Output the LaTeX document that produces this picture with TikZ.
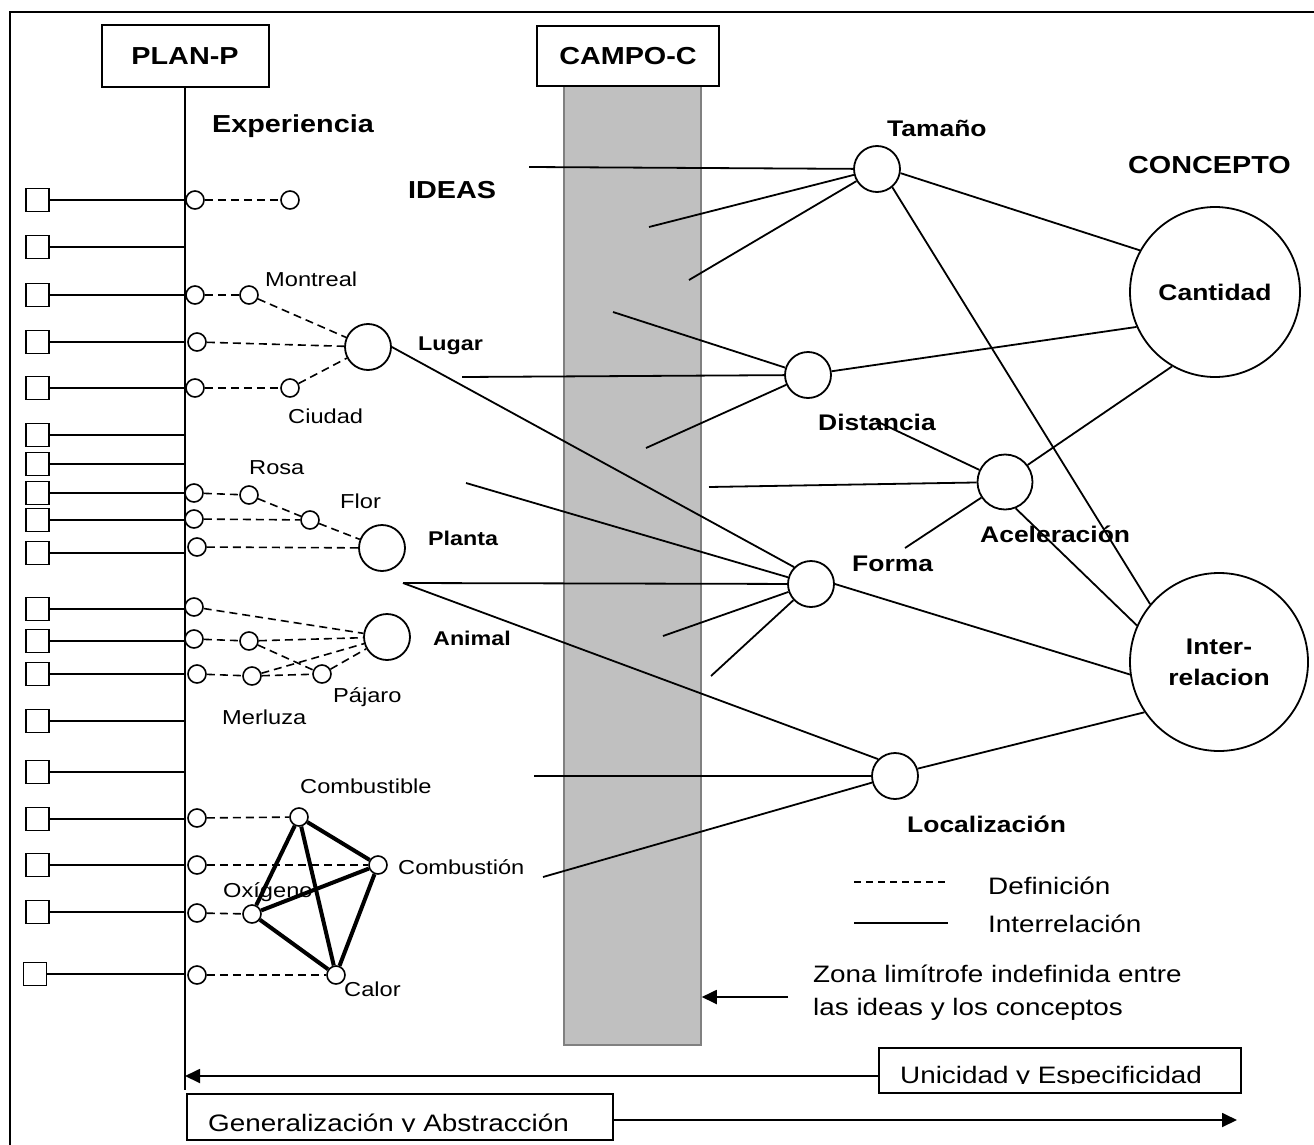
\documentclass[tikz,border=0pt]{standalone}
\usepackage{fontspec}
\setmainfont{Liberation Sans}[FakeStretch=1.17]
\usepackage{xcolor}
\usepackage{tikz}
\usetikzlibrary{arrows.meta}
\definecolor{bandgrey}{HTML}{C0C0C0}
\definecolor{bandedge}{HTML}{808080}
\newcommand{\fthead}{\fontsize{24.6}{29}\selectfont\bfseries}
\newcommand{\ftconc}{\fontsize{22.6}{31}\selectfont\bfseries}
\newcommand{\ftgroup}{\fontsize{19.9}{24}\selectfont\bfseries}
\newcommand{\ftbody}{\fontsize{23.8}{33}\selectfont}
\newcommand{\ftsmall}{\fontsize{20.2}{24}\selectfont}
\tikzset{
  titlebox/.style={
    rectangle, draw, line width=2pt, fill=white,
    minimum width=167pt, minimum height=62pt, inner sep=0pt,
    font=\fthead
  },
  band/.style={
    rectangle, draw=bandedge, fill=bandgrey, line width=1.5pt,
    minimum width=137pt, minimum height=959pt, inner sep=0pt
  },
  sqbox/.style={
    rectangle, draw, line width=1.6pt, fill=white,
    minimum size=23pt, inner sep=0pt
  },
  dot/.style={
    circle, draw, line width=1.6pt, fill=white,
    minimum size=18pt, inner sep=0pt
  },
  ideanode/.style={
    circle, draw, line width=1.8pt, fill=white,
    minimum size=46pt, inner sep=0pt
  },
  conceptnode/.style={
    circle, draw, line width=1.8pt, fill=white,
    minimum size=#1, inner sep=0pt, align=center, font=\ftconc
  },
  framebox/.style={
    rectangle, draw, line width=2pt, inner sep=0pt
  },
  relline/.style={line width=1.8pt},
  defline/.style={line width=1.6pt, dash pattern=on 8pt off 5pt},
  fireline/.style={line width=4pt},
  bigarrow/.style={-{Triangle[length=15pt,width=14pt]}, line width=1.8pt},
  lbl/.style={anchor=base west, inner sep=0pt, font=\ftsmall},
  grouplbl/.style={anchor=base west, inner sep=0pt, font=\ftgroup},
  conclbl/.style={anchor=base west, inner sep=0pt, font=\ftconc},
  headlbl/.style={anchor=base west, inner sep=0pt, font=\fthead},
  bodylbl/.style={anchor=base west, inner sep=0pt, font=\ftbody},
}

\begin{document}
\begin{tikzpicture}[x=1pt,y=-1pt]
  \useasboundingbox (0,0) rectangle (1314,1145);
  \clip (0,0) rectangle (1314,1145);
  \draw[line width=2pt] (9.5,12) rectangle (1340,1170);

  %% grey zone and column titles
  \node[band] (band) at (632.5,565.5) {};
  \node[titlebox] (plan) at (185,56) {PLAN-P};
  \node[titlebox, minimum width=182pt, minimum height=60pt] (campo) at (628,56) {CAMPO-C};
  \coordinate (axisend) at (185,1090);
  \draw[relline] (plan.south) -- (axisend);

  \node[headlbl] (exper) at (212,132) {Experiencia};
  \node[headlbl] (ideas) at (408,198) {IDEAS};
  \node[headlbl] (concepto) at (1128,173) {CONCEPTO};

  %% experiences (left column)
  \foreach \sx/\sy [count=\i] in {37.5/200,37.5/247,37.5/295,37.5/342,37.5/388,
      37.5/435,37.5/464,37.5/493,37.5/520,37.5/553,37.5/609,37.5/641,37.5/674,
      37.5/721,37.5/772,37.5/819,37.5/865,37.5/912,35/974}{
    \node[sqbox] (sq\i) at (\sx,\sy) {};
    \draw[relline] (sq\i.east) -- (sq\i.east -| axisend);
  }

  %% first definition
  \node[dot] (d1) at (195,200) {};
  \node[dot] (lone) at (290,200) {};
  \draw[defline] (d1) -- (lone);

  %% Lugar
  \node[ideanode] (lugar) at (368,347) {};
  \node[dot] (dmon) at (195,295) {};
  \node[dot] (mont) at (249,295) {};
  \node[dot] (dlug) at (197,342) {};
  \node[dot] (dciu) at (195,388) {};
  \node[dot] (ciud) at (290,388) {};
  \draw[defline] (dmon) -- (mont);
  \draw[defline] (mont) -- (lugar);
  \draw[defline] (dlug) -- (lugar);
  \draw[defline] (dciu) -- (ciud);
  \draw[defline] (ciud) -- (lugar);
  \node[lbl] (montlbl) at (265,286) {Montreal};
  \node[lbl] (ciudlbl) at (288,423) {Ciudad};
  \node[grouplbl] (lugarlbl) at (418,350) {Lugar};

  %% Planta
  \node[ideanode] (planta) at (382,548) {};
  \node[dot] (dros) at (194,493) {};
  \node[dot] (rosa) at (249,495) {};
  \node[dot] (dflo) at (194,519) {};
  \node[dot] (flor) at (310,520) {};
  \node[dot] (dpla) at (197,547) {};
  \draw[defline] (dros) -- (rosa);
  \draw[defline] (rosa) -- (flor);
  \draw[defline] (flor) -- (planta);
  \draw[defline] (dflo) -- (flor);
  \draw[defline] (dpla) -- (planta);
  \node[lbl] (rosalbl) at (249,474) {Rosa};
  \node[lbl] (florlbl) at (340,508) {Flor};
  \node[grouplbl] (plantalbl) at (428,545) {Planta};

  %% Animal
  \node[ideanode] (animal) at (387,637) {};
  \node[dot] (dani) at (194,607) {};
  \node[dot] (dmer1) at (194,639) {};
  \node[dot] (fish1) at (249,641) {};
  \node[dot] (dmer2) at (197,674) {};
  \node[dot] (merl) at (252,676) {};
  \node[dot] (paja) at (322,674) {};
  \draw[defline] (dani) -- (animal);
  \draw[defline] (dmer1) -- (fish1);
  \draw[defline] (fish1) -- (animal);
  \draw[defline] (fish1) -- (paja);
  \draw[defline] (dmer2) -- (merl);
  \draw[defline] (merl) -- (paja);
  \draw[defline] (merl) -- (animal);
  \draw[defline] (paja) -- (animal);
  \node[lbl] (pajalbl) at (333,702) {Pájaro};
  \node[lbl] (merllbl) at (222,724) {Merluza};
  \node[grouplbl] (animallbl) at (433,645) {Animal};

  %% Combustion
  \node[dot] (dfuel) at (197,818) {};
  \node[dot] (dcomb) at (197,865) {};
  \node[dot] (doxy) at (197,913) {};
  \node[dot] (dheat) at (197,975) {};
  \node[dot] (fuel) at (299,817) {};
  \node[dot] (comb) at (378,865) {};
  \node[dot] (oxy) at (252,914) {};
  \node[dot] (heat) at (336,975) {};
  \draw[defline] (dfuel) -- (fuel);
  \draw[defline] (dcomb) -- (comb);
  \draw[defline] (doxy) -- (oxy);
  \draw[defline] (dheat) -- (heat);
  \draw[fireline] (fuel) -- (comb);
  \draw[fireline] (fuel) -- (oxy);
  \draw[fireline] (fuel) -- (heat);
  \draw[fireline] (comb) -- (oxy);
  \draw[fireline] (comb) -- (heat);
  \draw[fireline] (oxy) -- (heat);
  \node[lbl] (fuellbl) at (300,793) {Combustible};
  \node[lbl] (comblbl) at (398,874) {Combustión};
  \node[lbl] (oxylbl) at (223,897) {Oxígeno};
  \node[lbl] (heatlbl) at (344,996) {Calor};

  %% ideas and concepts
  \node[ideanode] (tam) at (877,169) {};
  \node[ideanode] (dist) at (808,375) {};
  \node[ideanode, minimum size=55pt] (acel) at (1005,482) {};
  \node[ideanode] (forma) at (811,584) {};
  \node[ideanode] (loc) at (895,776) {};
  \node[conceptnode=170pt] (cant) at (1215,292) {Cantidad};
  \node[conceptnode=178pt] (inter) at (1219,662) {Inter-\\relacion};

  \node[conclbl] (tamlbl) at (887,137) {Tamaño};
  \node[conclbl] (distlbl) at (818,430) {Distancia};
  \node[conclbl] (formalbl) at (852,571) {Forma};
  \node[conclbl] (acellbl) at (980,542) {Aceleración};
  \node[conclbl] (loclbl) at (907,832) {Localización};

  \coordinate (s1) at (529,167);
  \coordinate (s2) at (649,227);
  \coordinate (s3) at (689,280);
  \coordinate (s4) at (613,312);
  \coordinate (s5) at (462,377);
  \coordinate (s6) at (646,448);
  \coordinate (s7) at (876,421);
  \coordinate (s8) at (709,487);
  \coordinate (s9) at (905,548);
  \coordinate (s10) at (466,483);
  \coordinate (fork) at (403,583);
  \coordinate (s11) at (663,636);
  \coordinate (s12) at (711,676);
  \coordinate (s13) at (534,776);
  \coordinate (s14) at (543,877);

  \draw[relline] (s1) -- (tam);
  \draw[relline] (s2) -- (tam);
  \draw[relline] (s3) -- (tam);
  \draw[relline] (tam.-10) -- (cant.151);
  \draw[relline] (tam.-50) -- (inter.140);

  \draw[relline] (s4) -- (dist);
  \draw[relline] (s5) -- (dist);
  \draw[relline] (s6) -- (dist);
  \draw[relline] (dist.9) -- (cant.204);

  \draw[relline] (s7) -- (acel);
  \draw[relline] (s8) -- (acel);
  \draw[relline] (s9) -- (acel);
  \draw[relline] (acel.37) -- (cant.240);
  \draw[relline] (acel.-68) -- (inter.156);

  \draw[relline] (lugar.east) -- (forma.north west);
  \draw[relline] (s10) -- (forma);
  \draw[relline] (fork) -- (forma);
  \draw[relline] (forma) -- (s11);
  \draw[relline] (forma) -- (s12);
  \draw[relline] (forma.east) -- (inter.188);

  \draw[relline] (fork) -- (loc.north west);
  \draw[relline] (s13) -- (loc);
  \draw[relline] (s14) -- (loc);
  \draw[relline] (loc.18) -- (inter.214);

  %% legend
  \coordinate (defa) at (854,882);
  \coordinate (defb) at (945,882);
  \coordinate (rela) at (854,923);
  \coordinate (relb) at (948,923);
  \draw[line width=1.3pt, dash pattern=on 7pt off 5pt] (defa) -- (defb);
  \draw[line width=1.6pt] (rela) -- (relb);
  \node[bodylbl] (deflbl) at (988,894) {Definición};
  \node[bodylbl] (rellbl) at (988,932) {Interrelación};

  %% border zone
  \node[bodylbl] (zona1) at (813,982) {Zona limítrofe indefinida entre};
  \node[bodylbl] (zona2) at (813,1015) {las ideas y los conceptos};
  \coordinate (zonatail) at (788,997);
  \draw[bigarrow] (zonatail) -- (zonatail -| band.east);

  %% bottom arrows
  \node[framebox, minimum width=362pt, minimum height=45pt] (unibox) at (1060,1070.5) {};
  \begin{scope}
    \clip (879,1048) rectangle (1241,1083.5);
    \node[bodylbl] (unitxt) at (900,1083) {Unicidad y Especificidad};
  \end{scope}
  \coordinate (unitip) at (185,1076);
  \draw[bigarrow] (unibox.west |- unitip) -- (unitip);

  \node[framebox, minimum width=426pt, minimum height=46pt] (genbox) at (400,1117) {};
  \begin{scope}
    \clip (187,1094) rectangle (613,1131.5);
    \node[bodylbl] (gentxt) at (208,1131) {Generalización y Abstracción};
  \end{scope}
  \coordinate (gentip) at (1237,1120);
  \draw[bigarrow] (genbox.east |- gentip) -- (gentip);

\end{tikzpicture}
\end{document}
